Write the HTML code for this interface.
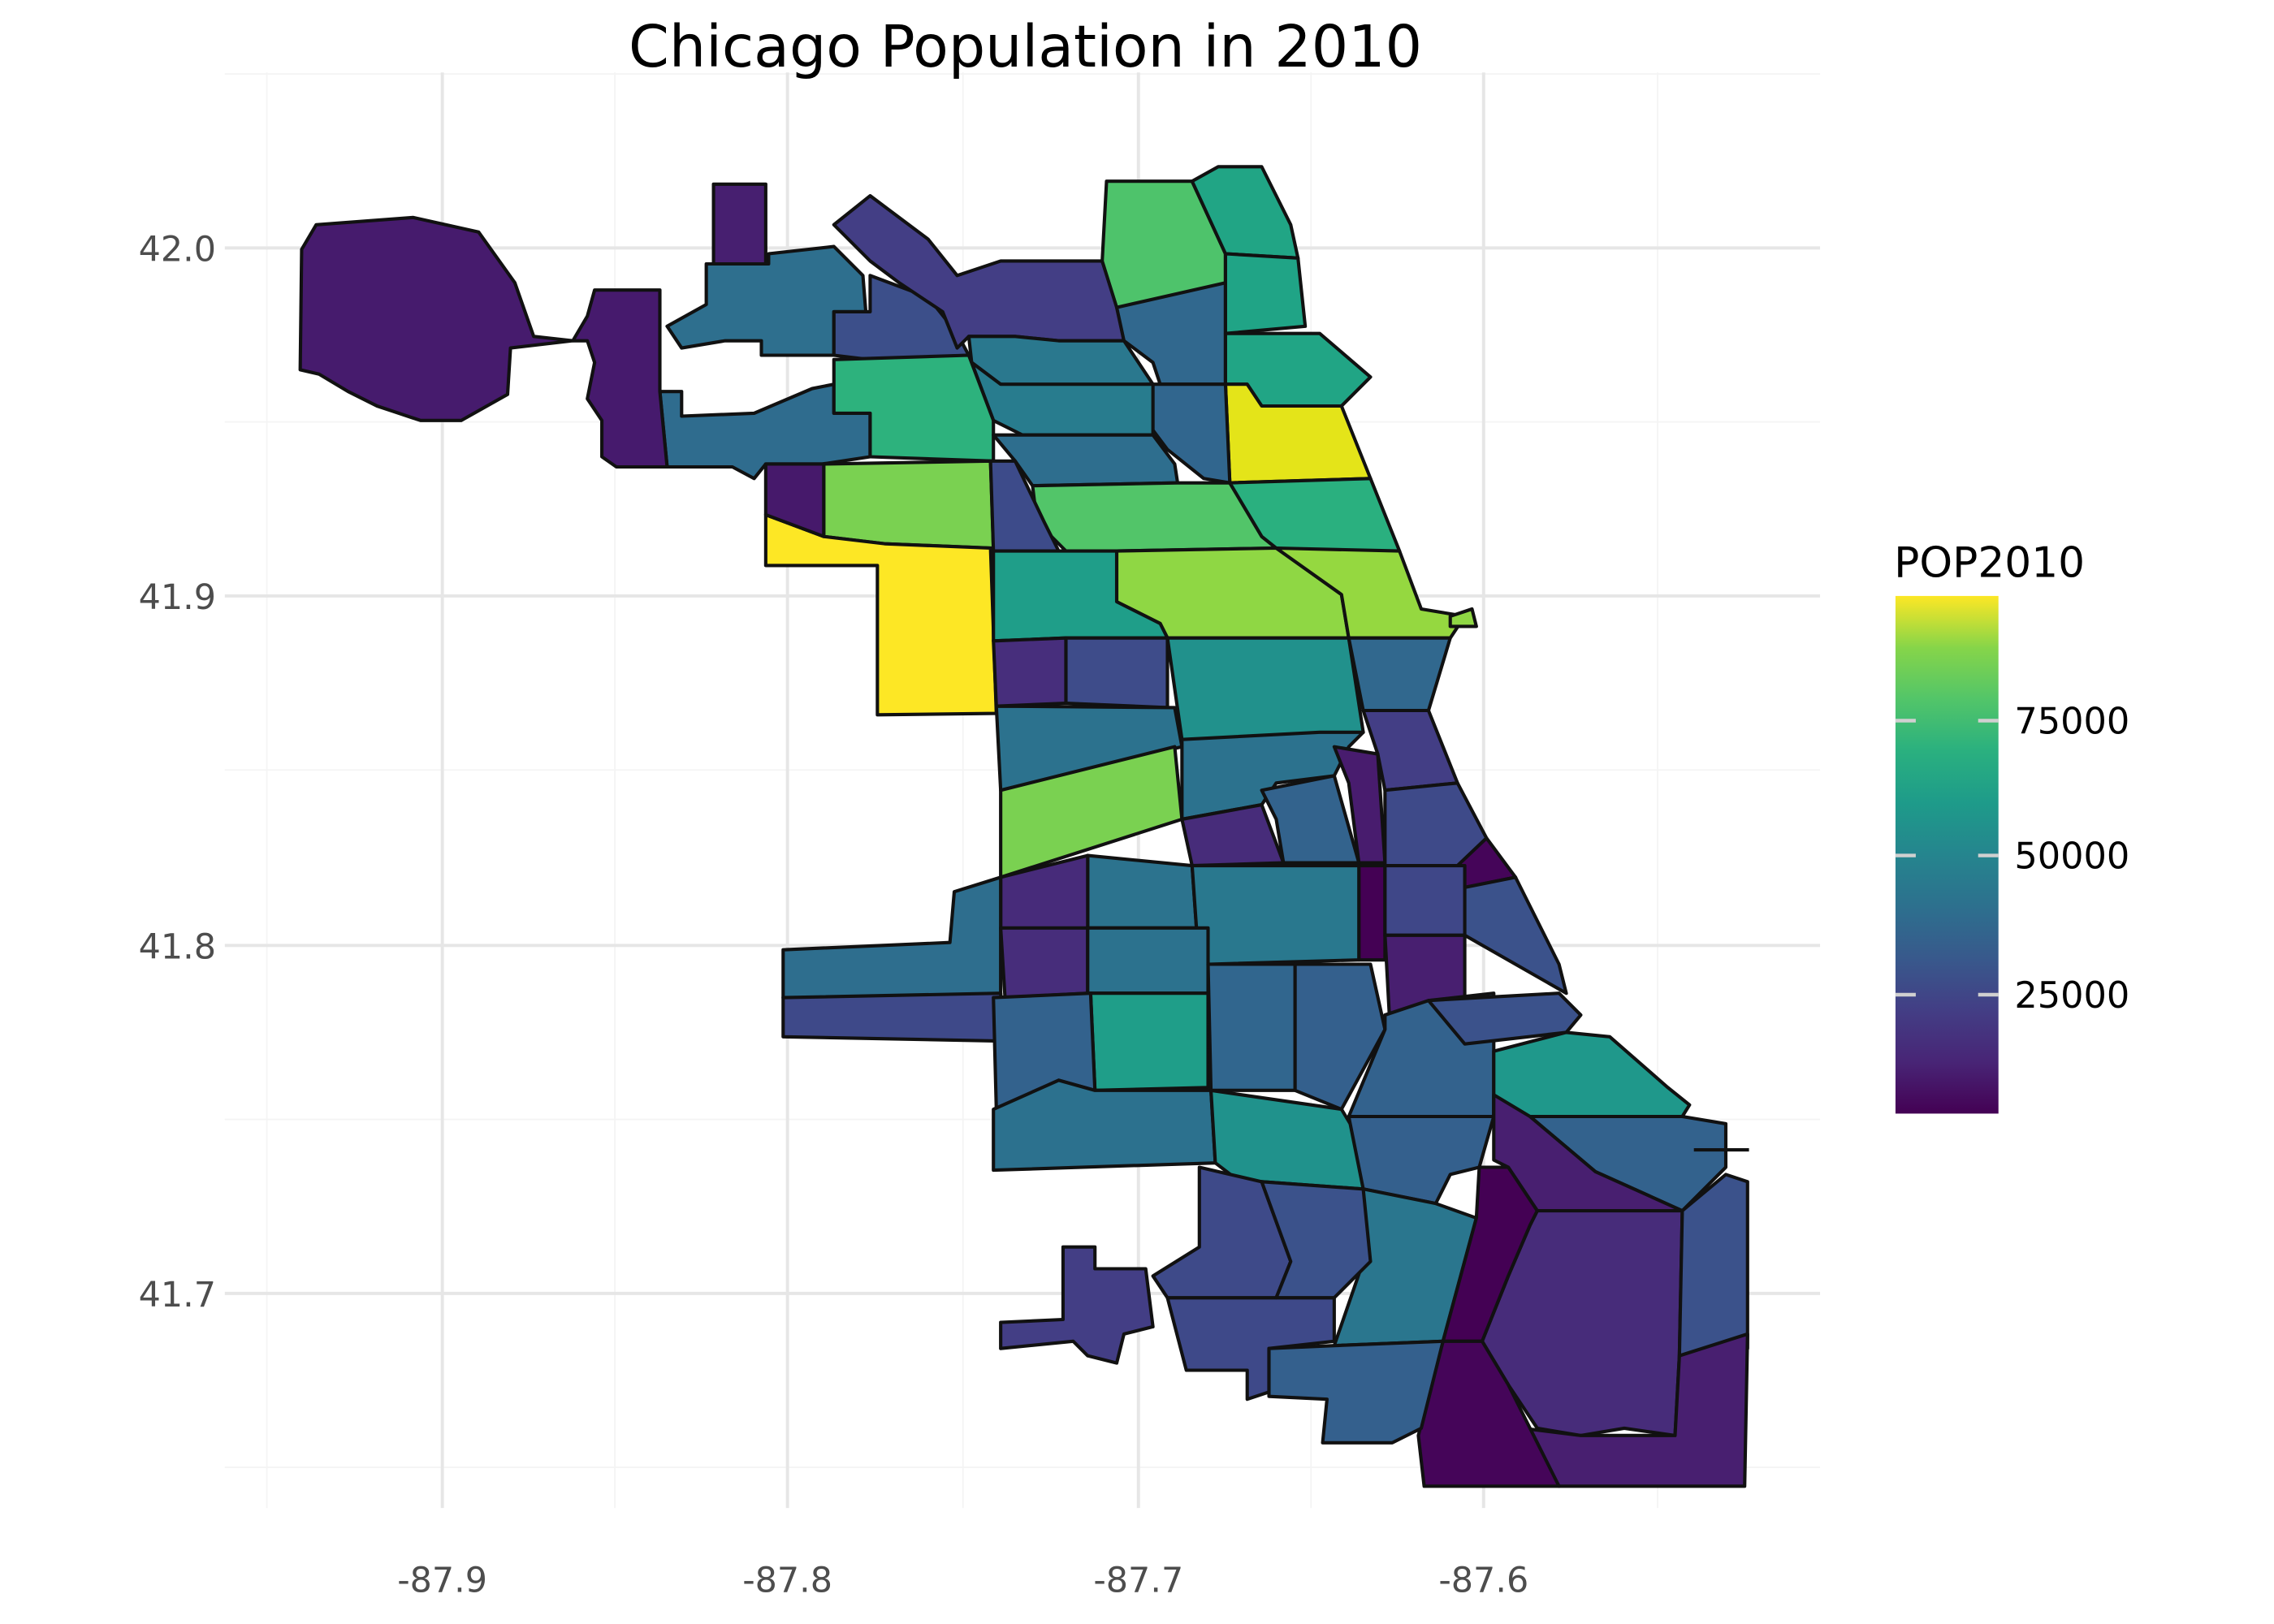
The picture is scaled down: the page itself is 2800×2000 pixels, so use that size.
<!DOCTYPE html>
<html><head><meta charset="utf-8"><style>
html,body{margin:0;padding:0;background:#fff;}
svg{display:block;}
text{font-family:"DejaVu Sans","Liberation Sans",sans-serif;}
</style></head><body>
<svg width="2800" height="2000" viewBox="0 0 1568 1120" preserveAspectRatio="none" xmlns="http://www.w3.org/2000/svg">
<defs>
<linearGradient id="vir" x1="0" y1="1" x2="0" y2="0">
<stop offset="0" stop-color="#440154"/><stop offset="0.1" stop-color="#482576"/>
<stop offset="0.2" stop-color="#433e85"/><stop offset="0.3" stop-color="#38598c"/>
<stop offset="0.4" stop-color="#2d708e"/><stop offset="0.5" stop-color="#25858e"/>
<stop offset="0.6" stop-color="#1e9b8a"/><stop offset="0.7" stop-color="#2ab07f"/>
<stop offset="0.8" stop-color="#52c569"/><stop offset="0.9" stop-color="#86d549"/>
<stop offset="1" stop-color="#fde725"/>
</linearGradient>
</defs>
<rect width="1568" height="1120" fill="#fff"/>
<g stroke="#f4f4f4" stroke-width="1">
<line x1="184" y1="50" x2="184" y2="1040"/><line x1="424" y1="50" x2="424" y2="1040"/><line x1="664" y1="50" x2="664" y2="1040"/><line x1="904" y1="50" x2="904" y2="1040"/><line x1="1143" y1="50" x2="1143" y2="1040"/>
<line x1="155" y1="51" x2="1255" y2="51"/><line x1="155" y1="291" x2="1255" y2="291"/><line x1="155" y1="531" x2="1255" y2="531"/><line x1="155" y1="772" x2="1255" y2="772"/><line x1="155" y1="1012" x2="1255" y2="1012"/>
</g>
<g stroke="#e6e6e6" stroke-width="2.2">
<line x1="305" y1="50" x2="305" y2="1040"/><line x1="543" y1="50" x2="543" y2="1040"/><line x1="785" y1="50" x2="785" y2="1040"/><line x1="1023" y1="50" x2="1023" y2="1040"/>
<line x1="155" y1="171" x2="1255" y2="171"/><line x1="155" y1="411" x2="1255" y2="411"/><line x1="155" y1="652" x2="1255" y2="652"/><line x1="155" y1="892" x2="1255" y2="892"/>
</g>
<g stroke="#111" stroke-width="2.3" stroke-linejoin="round">
<polygon fill="#461b6d" points="208,172 218,155 285,150 330,160 355,195 368,232 395,235 352,240 350,272 318,290 290,290 260,280 240,270 220,258 207,255"/>
<polygon fill="#471f70" points="492,127 528,127 528,182 492,182"/>
<polygon fill="#2e6f8e" points="487,182 530,182 530,175 575,170 595,190 597,215 575,215 575,245 525,245 525,235 500,235 470,240 460,225 487,210"/>
<polygon fill="#2f6c8e" points="455,270 470,270 470,287 520,285 560,268 575,265 575,285 600,285 600,315 567,320 528,320 520,330 505,322 460,322"/>
<polygon fill="#461a6d" points="410,200 455,200 455,270 460,322 425,322 415,315 415,290 405,275 410,250 405,235 395,235 405,218"/>
<polygon fill="#3c4f8a" points="575,245 575,215 600,215 600,190 640,205 660,230 668,245 600,248"/>
<polygon fill="#433e85" points="575,155 600,135 640,165 660,190 690,180 760,180 770,210 775,235 730,235 700,232 668,232 660,240 650,215 620,195 600,180"/>
<polygon fill="#4ec36b" points="763,125 822,125 845,175 845,210 770,212 760,180"/>
<polygon fill="#21a585" points="822,125 840,115 870,115 890,155 895,178 845,175"/>
<polygon fill="#31688e" points="770,212 845,195 845,265 800,265 795,250 775,235"/>
<polygon fill="#20a486" points="845,175 895,178 900,225 845,230"/>
<polygon fill="#21a585" points="845,230 910,230 945,260 925,280 870,280 860,265 845,265"/>
<polygon fill="#e4e419" points="845,265 860,265 870,280 925,280 945,330 848,333"/>
<polygon fill="#31668e" points="795,265 845,265 848,333 830,330 805,310 790,290"/>
<polygon fill="#2a788e" points="668,232 700,232 730,235 775,235 795,265 713,268 690,265 670,250"/>
<polygon fill="#287c8e" points="670,250 690,265 795,265 795,300 705,300 685,290"/>
<polygon fill="#2db27d" points="575,248 668,245 685,290 685,318 600,315 600,285 575,285"/>
<polygon fill="#2e6e8e" points="685,300 795,300 810,320 812,333 712,335 700,318"/>
<polygon fill="#52c569" points="712,335 812,333 848,333 870,370 880,378 770,380 735,380 715,360"/>
<polygon fill="#2ab07f" points="848,333 945,330 965,380 930,385 880,378 870,370"/>
<polygon fill="#7ad151" points="568,320 683,318 685,378 610,375 568,370"/>
<polygon fill="#fde725" points="528,355 568,370 610,375 683,378 687,492 605,493 605,390 528,390"/>
<polygon fill="#46196b" points="528,320 568,320 568,370 528,355"/>
<polygon fill="#3d4b8a" points="683,318 700,318 720,360 730,380 685,380"/>
<polygon fill="#8fd744" points="770,380 880,378 925,410 930,440 805,440 800,430 770,415"/>
<polygon fill="#95d840" points="880,378 965,380 980,420 1010,425 1000,440 930,440 925,410"/>
<polygon fill="#1f9e89" points="685,380 770,380 770,415 800,430 805,440 735,440 685,442"/>
<polygon fill="#472e7c" points="685,442 735,440 735,485 687,487"/>
<polygon fill="#3e4c8a" points="735,440 805,440 805,488 735,485"/>
<polygon fill="#21918c" points="805,440 930,440 940,505 910,508 815,510"/>
<polygon fill="#31688e" points="930,440 1000,440 985,490 940,490"/>
<polygon fill="#2c728e" points="687,487 810,488 815,515 690,545"/>
<polygon fill="#7ad151" points="690,545 810,515 815,565 690,605"/>
<polygon fill="#2c728e" points="815,510 910,505 940,505 930,515 920,535 880,540 870,555 815,565"/>
<polygon fill="#433e85" points="940,490 985,490 1005,540 955,545 950,520"/>
<polygon fill="#481c6e" points="920,515 950,520 955,595 937,595 930,540"/>
<polygon fill="#33638d" points="870,545 920,535 937,595 885,595 880,565"/>
<polygon fill="#472c7a" points="815,565 870,555 885,595 822,597"/>
<polygon fill="#3e4a89" points="955,545 1005,540 1025,578 1005,597 955,597"/>
<polygon fill="#450559" points="1005,597 1025,578 1045,605 1010,612"/>
<polygon fill="#440154" points="937,597 955,597 955,662 937,662"/>
<polygon fill="#3f4788" points="955,597 1010,597 1010,645 955,645"/>
<polygon fill="#3b528b" points="1010,612 1045,605 1075,665 1080,685 1010,645"/>
<polygon fill="#481f70" points="955,645 1010,645 1010,690 985,690 958,700"/>
<polygon fill="#2c738e" points="750,590 822,597 825,640 750,640"/>
<polygon fill="#29788e" points="822,597 937,597 937,662 833,665 825,640"/>
<polygon fill="#472b7a" points="690,605 750,590 750,655 690,660"/>
<polygon fill="#2e6e8e" points="540,655 655,650 658,615 690,605 690,688 540,688"/>
<polygon fill="#3e4989" points="540,688 690,685 693,718 540,715"/>
<polygon fill="#472d7b" points="690,640 750,640 750,685 693,688"/>
<polygon fill="#2c728e" points="750,640 833,640 833,685 750,685"/>
<polygon fill="#1f9e89" points="752,685 833,685 833,750 755,752"/>
<polygon fill="#33628d" points="685,688 752,685 755,752 730,745 687,765"/>
<polygon fill="#31668e" points="833,665 893,665 893,752 835,752"/>
<polygon fill="#34608d" points="893,665 945,665 955,710 925,765 893,752"/>
<polygon fill="#2c718e" points="685,765 730,745 755,752 835,752 838,802 685,807"/>
<polygon fill="#20928c" points="835,752 925,765 940,790 940,820 870,815 855,815 838,802"/>
<polygon fill="#33628d" points="955,700 985,690 1030,685 1030,770 930,770 955,710"/>
<polygon fill="#3b528b" points="985,690 1075,685 1090,700 1080,712 1010,720"/>
<polygon fill="#1f988b" points="1030,725 1080,712 1110,715 1150,750 1165,762 1160,770 1090,770 1030,770"/>
<polygon fill="#34608d" points="930,770 1030,770 1020,805 1000,810 990,830 940,820"/>
<polygon fill="#33628d" points="1055,770 1160,770 1190,775 1190,805 1160,835 1100,808"/>
<polygon fill="#481f70" points="1030,755 1055,770 1100,808 1160,835 1060,835 1040,805 1030,800"/>
<polygon fill="#2a768e" points="940,820 990,830 1018,840 995,925 920,928 940,870"/>
<polygon fill="#472c7a" points="1055,845 1060,835 1160,835 1158,935 1155,990 1120,985 1090,990 1060,985 1040,955 1022,925 1040,880"/>
<polygon fill="#440154" points="1020,805 1040,805 1060,835 1055,845 1040,880 1022,925 995,925 1018,840"/>
<polygon fill="#3b528b" points="1160,835 1190,810 1205,815 1205,930 1158,935"/>
<polygon fill="#481f70" points="1158,935 1205,920 1203,1025 1075,1025 1050,985 1090,990 1155,990"/>
<polygon fill="#450559" points="995,925 1022,925 1040,955 1075,1025 982,1025 978,990"/>
<polygon fill="#3e4989" points="805,895 920,895 920,925 875,930 875,960 860,965 860,945 818,945"/>
<polygon fill="#3e4a89" points="827,805 870,815 890,870 880,895 805,895 795,880 827,860"/>
<polygon fill="#3b528b" points="870,815 940,820 945,870 920,895 880,895 890,870"/>
<polygon fill="#433e85" points="733,860 755,860 755,875 790,875 795,915 775,920 770,940 750,935 740,925 690,930 690,912 733,910"/>
<polygon fill="#34608d" points="875,930 920,928 995,925 980,985 960,995 912,995 915,965 875,963"/>
<polygon fill="#8fd744" points="1000,425 1015,420 1018,432 1000,432"/>
<line x1="1168" y1="793" x2="1206" y2="793"/>
</g>
<text x="707" y="46" font-size="40" text-anchor="middle" fill="#000">Chicago Population in 2010</text>
<g font-size="24" fill="#4d4d4d" text-anchor="end">
<text x="149" y="180">42.0</text><text x="149" y="420">41.9</text><text x="149" y="661">41.8</text><text x="149" y="901">41.7</text>
</g>
<g font-size="24" fill="#4d4d4d" text-anchor="middle">
<text x="305" y="1098">-87.9</text><text x="543" y="1098">-87.8</text><text x="785" y="1098">-87.7</text><text x="1023" y="1098">-87.6</text>
</g>
<text x="1306" y="398" font-size="29" fill="#000">POP2010</text>
<rect x="1307" y="411" width="71" height="357" fill="url(#vir)"/>
<g stroke="#d0d0d0" stroke-width="2.5">
<line x1="1307" y1="497" x2="1321" y2="497"/><line x1="1364" y1="497" x2="1378" y2="497"/>
<line x1="1307" y1="590" x2="1321" y2="590"/><line x1="1364" y1="590" x2="1378" y2="590"/>
<line x1="1307" y1="686" x2="1321" y2="686"/><line x1="1364" y1="686" x2="1378" y2="686"/>
</g>
<g font-size="25" fill="#000">
<text x="1389" y="506">75000</text><text x="1389" y="599">50000</text><text x="1389" y="695">25000</text>
</g>
</svg>
</body></html>
